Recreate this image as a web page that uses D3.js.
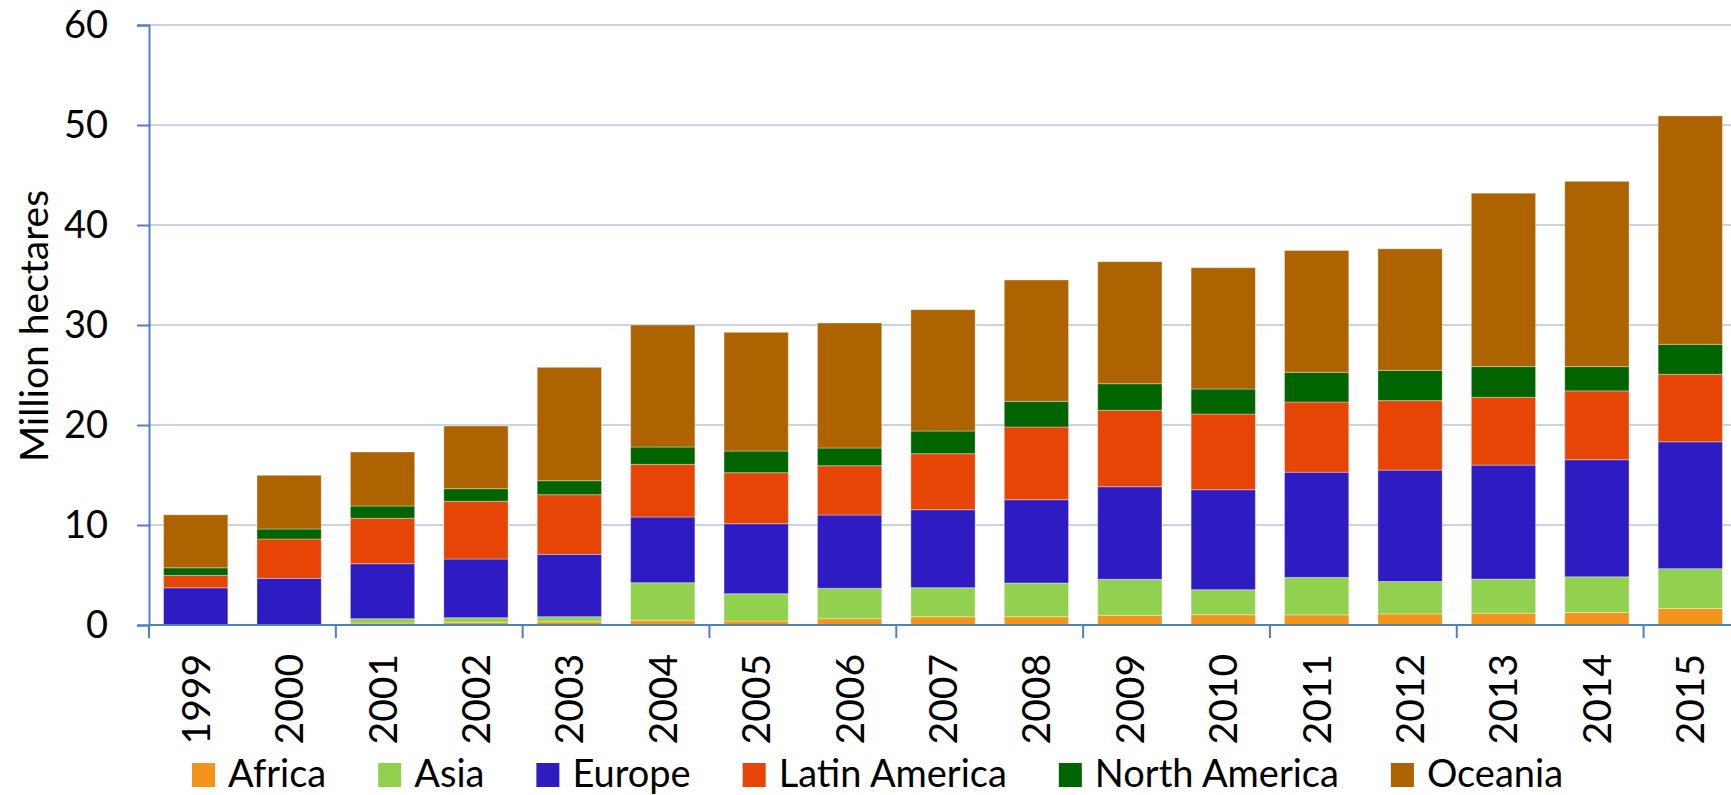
<!DOCTYPE html>
<html>
<head>
<meta charset="utf-8">
<script src="https://cdn.jsdelivr.net/npm/d3@7"></script>
<style>
    body { margin: 0; background: #fff; }
    svg { display: block; font-family: Lato, "Open Sans", sans-serif; }
</style>
</head>
<body>
<div id="chart"></div>
<script>
// organic land per region, million hectares
const years = ["1999", "2000", "2001", "2002", "2003", "2004", "2005", "2006", "2007", "2008", "2009", "2010", "2011", "2012", "2013", "2014", "2015"];
const africa = [0, 0, 0.2, 0.27, 0.33, 0.47, 0.4, 0.63, 0.83, 0.83, 0.97, 1.03, 1.01, 1.11, 1.18, 1.25, 1.65];
const asia = [0, 0, 0.43, 0.46, 0.5, 3.76, 2.73, 3.04, 2.9, 3.37, 3.6, 2.5, 3.75, 3.24, 3.41, 3.57, 3.98];
const europe = [3.72, 4.67, 5.5, 5.87, 6.24, 6.57, 7.0, 7.33, 7.8, 8.33, 9.26, 10.0, 10.52, 11.14, 11.4, 11.71, 12.69];
const latinAmerica = [1.24, 3.93, 4.54, 5.77, 5.96, 5.27, 5.1, 4.93, 5.6, 7.27, 7.64, 7.57, 7.02, 6.95, 6.78, 6.88, 6.75];
const northAmerica = [0.76, 1.0, 1.23, 1.26, 1.4, 1.73, 2.17, 1.77, 2.27, 2.57, 2.66, 2.5, 2.97, 3.03, 3.07, 2.43, 3.0];
const oceania = [5.3, 5.37, 5.4, 6.27, 11.34, 12.2, 11.87, 12.5, 12.13, 12.13, 12.2, 12.13, 12.18, 12.15, 17.34, 18.53, 22.84];

const seriesNames = ["Africa", "Asia", "Europe", "Latin America", "North America", "Oceania"];
const seriesValues = [africa, asia, europe, latinAmerica, northAmerica, oceania];
const colors = ["#F3941C", "#92D050", "#2F1BC2", "#E64505", "#006400", "#AD6400"];
const yTicks = [0, 10, 20, 30, 40, 50, 60];

const width = 1731;
const height = 795;
const margin = { left: 149, top: 25, bottom: 169 };

const rows = years.map((year, i) => {
    const row = { year };
    seriesNames.forEach((name, s) => { row[name] = seriesValues[s][i]; });
    return row;
});
const stacked = d3.stack().keys(seriesNames)(rows);

const svg = d3.select("#chart").append("svg")
    .attr("width", width)
    .attr("height", height);

const x = d3.scaleBand()
    .domain(years)
    .range([margin.left, 1737])
    .paddingInner(0.312)
    .paddingOuter(0.156);

const y = d3.scaleLinear()
    .domain([0, 60])
    .range([height - margin.bottom - 1, margin.top]);

// gridlines
svg.append("g")
    .selectAll("line")
    .data(yTicks.slice(1))
    .enter().append("line")
    .attr("x1", margin.left)
    .attr("x2", width)
    .attr("y1", d => y(d))
    .attr("y2", d => y(d))
    .attr("stroke", "#B8C5DD")
    .attr("stroke-width", 1.4);

// bars
svg.append("g")
    .selectAll("g")
    .data(stacked)
    .enter().append("g")
    .attr("fill", (d, i) => colors[i])
    .selectAll("rect")
    .data(d => d)
    .enter().append("rect")
    .attr("x", d => x(d.data.year))
    .attr("width", x.bandwidth())
    .attr("y", d => y(d[1]))
    .attr("height", d => Math.max(0, y(d[0]) - y(d[1])))
    .attr("stroke", "rgba(255,255,255,0.35)")
    .attr("stroke-width", 1);

// y axis
const yAxis = svg.append("g")
    .attr("transform", `translate(${margin.left},0)`)
    .call(d3.axisLeft(y).tickValues(yTicks).tickSize(12).tickPadding(29));
yAxis.select(".domain").attr("stroke", "#4F81BD").attr("stroke-width", 2);
yAxis.selectAll(".tick line").attr("stroke", "#4F81BD").attr("stroke-width", 2);
yAxis.selectAll(".tick text")
    .attr("font-family", "Lato, sans-serif")
    .attr("font-size", 38)
    .attr("fill", "#000");

// x axis: ticks between every second category
const step = x.step();
const gap = step - x.bandwidth();
const xAxis = svg.append("g")
    .attr("transform", `translate(0,${y(0)})`);
xAxis.append("line")
    .attr("x1", margin.left)
    .attr("x2", 1737)
    .attr("stroke", "#4F81BD")
    .attr("stroke-width", 2);
xAxis.selectAll(".tick")
    .data(years.filter((d, i) => i % 2 === 0))
    .enter().append("line")
    .attr("x1", d => x(d) - gap / 2)
    .attr("x2", d => x(d) - gap / 2)
    .attr("y1", 0)
    .attr("y2", 13)
    .attr("stroke", "#4F81BD")
    .attr("stroke-width", 2);
xAxis.selectAll("text")
    .data(years)
    .enter().append("text")
    .attr("transform", d => `translate(${x(d) + x.bandwidth() / 2 + 14},29) rotate(-90)`)
    .attr("text-anchor", "end")
    .attr("font-size", 39)
    .attr("fill", "#000")
    .text(d => d);

// y axis title
svg.append("text")
    .attr("transform", "translate(48,326) rotate(-90)")
    .attr("text-anchor", "middle")
    .attr("font-size", 39)
    .attr("fill", "#000")
    .text("Million hectares");

// legend
const legend = svg.append("g").attr("transform", "translate(0,787)");
const items = legend.selectAll("g")
    .data(seriesNames)
    .enter().append("g");
items.append("rect")
    .attr("y", -24)
    .attr("width", 23)
    .attr("height", 24)
    .attr("fill", (d, i) => colors[i]);
items.append("text")
    .attr("x", 36)
    .attr("font-size", 38)
    .attr("fill", "#000")
    .text(d => d);

let pos = 192;
const offsets = [];
items.each(function() {
    offsets.push(pos);
    const w = d3.select(this).select("text").node().getComputedTextLength();
    pos += 36 + w + 52;
});
items.attr("transform", (d, i) => `translate(${offsets[i]},0)`);
</script>
</body>
</html>
